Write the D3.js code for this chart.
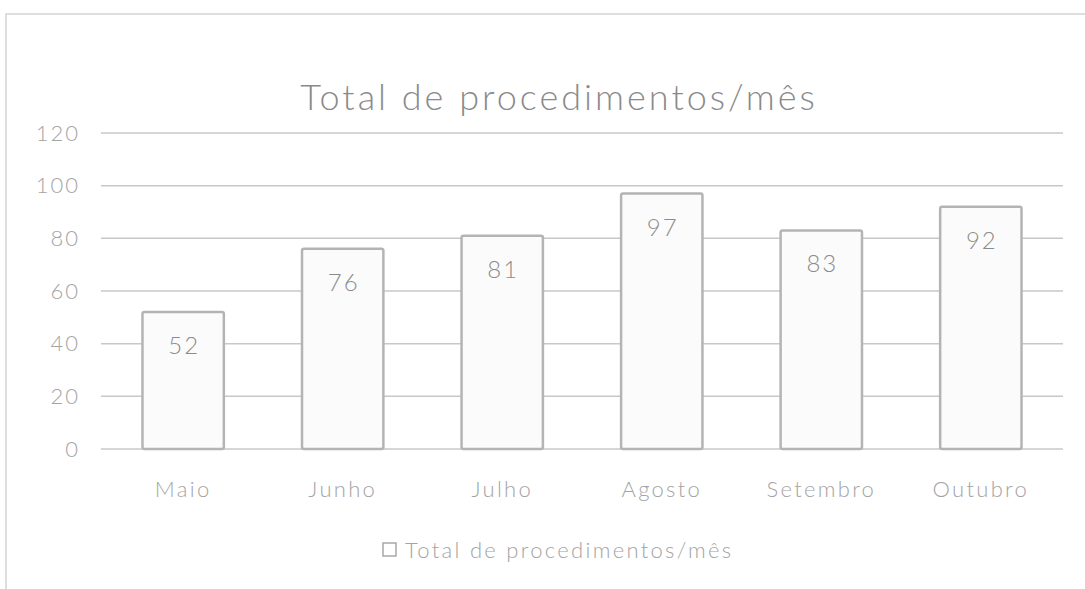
<!DOCTYPE html>
<html>
<head>
<meta charset="utf-8">
<script src="https://cdn.jsdelivr.net/npm/d3@7"></script>
<style>
  body { margin: 0; background: #fff; }
  text { font-family: Lato, "Open Sans", sans-serif; }
</style>
</head>
<body>
<script>
  //data
  var months = ["Maio", "Junho", "Julho", "Agosto", "Setembro", "Outubro"];
  var totals = [52, 76, 81, 97, 83, 92];
  var yTicks = [0, 20, 40, 60, 80, 100, 120];
  var seriesName = "Total de procedimentos/mês";

  var w = 1085; //svg width
  var h = 589; //svg height
  var plotLeft = 101, plotRight = 1063, plotTop = 133, plotBottom = 449;

  var svg = d3.select("body")
      .append("svg")
      .attr("width", w)
      .attr("height", h);

  //frame of the scanned chart
  svg.append("path")
      .attr("d", "M6,589 V14 H1085")
      .attr("fill", "none")
      .attr("stroke", "#d4d4d4")
      .attr("stroke-width", 1.5);

  //SCALES
  var x = d3.scaleBand()
      .domain(months)
      .range([plotLeft, plotRight])
      .paddingInner(0.49)
      .paddingOuter(0.26);

  var y = d3.scaleLinear()
      .domain([0, 120])
      .range([plotBottom, plotTop]);

  //gridlines
  svg.selectAll(".grid")
      .data(yTicks)
      .enter()
      .append("line")
      .attr("class", "grid")
      .attr("x1", plotLeft)
      .attr("x2", plotRight)
      .attr("y1", function(d) { return y(d); })
      .attr("y2", function(d) { return y(d); })
      .attr("stroke", "#c8c8c8")
      .attr("stroke-width", 1.5);

  //y axis
  var yAxis = svg.append("g")
      .attr("transform", "translate(" + (plotLeft - 21) + ",0)")
      .call(d3.axisLeft(y).tickValues(yTicks).tickSize(0).tickPadding(0));
  yAxis.select(".domain").remove();
  yAxis.selectAll("text")
      .attr("fill", "#a4a4a4")
      .style("font-size", "22px")
      .style("letter-spacing", "2px")
      .style("font-weight", 300);

  //x axis
  var xAxis = svg.append("g")
      .attr("transform", "translate(0," + plotBottom + ")")
      .call(d3.axisBottom(x).tickSize(0).tickPadding(32));
  xAxis.select(".domain").remove();
  xAxis.selectAll("text")
      .attr("fill", "#a4a4a4")
      .style("font-size", "22px")
      .style("letter-spacing", "2.3px")
      .style("font-weight", 300);

  //BARS
  svg.selectAll(".bar")
      .data(totals)
      .enter()
      .append("rect")
      .attr("class", "bar")
      .attr("x", function(d, i) { return x(months[i]); })
      .attr("y", function(d) { return y(d); })
      .attr("width", x.bandwidth())
      .attr("height", function(d) { return y(0) - y(d); })
      .attr("rx", 2)
      .attr("fill", "#fbfbfb")
      .attr("stroke", "#b4b4b4")
      .attr("stroke-width", 2.5);

  //LABELS
  svg.selectAll(".barLabel")
      .data(totals)
      .enter()
      .append("text")
      .attr("class", "barLabel")
      .text(function(d) { return d; })
      .attr("x", function(d, i) { return x(months[i]) + x.bandwidth() / 2 + 1; })
      .attr("y", function(d) { return y(d) + 42; })
      .attr("text-anchor", "middle")
      .attr("fill", "#8c8c8c")
      .style("font-size", "24px")
      .style("letter-spacing", "2px")
      .style("font-weight", 300);

  //title
  svg.append("text")
      .attr("x", 559)
      .attr("y", 110)
      .attr("text-anchor", "middle")
      .attr("fill", "#8a8a8a")
      .style("font-size", "36px")
      .style("letter-spacing", "3px")
      .style("font-weight", 300)
      .text(seriesName);

  //legend
  var legend = svg.append("g");
  legend.append("rect")
      .attr("x", 383)
      .attr("y", 543)
      .attr("width", 13)
      .attr("height", 13)
      .attr("fill", "#fff")
      .attr("stroke", "#a8a8a8")
      .attr("stroke-width", 1.5);
  legend.append("text")
      .attr("x", 405)
      .attr("y", 558)
      .attr("fill", "#a4a4a4")
      .style("font-size", "22px")
      .style("letter-spacing", "2.3px")
      .style("font-weight", 300)
      .text(seriesName);
</script>
</body>
</html>
